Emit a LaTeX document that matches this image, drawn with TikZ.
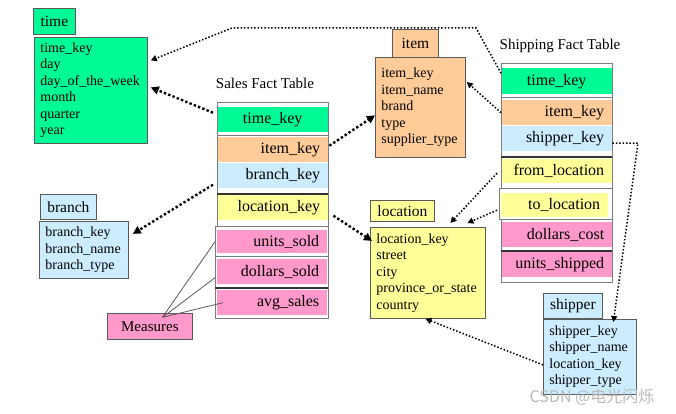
\documentclass[tikz,border=0pt]{standalone}
\usepackage{fontspec}
\setmainfont{Liberation Serif}
\newfontfamily\cjk{Noto Sans CJK SC}
\usetikzlibrary{arrows.meta}
\definecolor{cgreen}{RGB}{0,250,150}
\definecolor{corange}{RGB}{255,204,153}
\definecolor{cblue}{RGB}{204,236,255}
\definecolor{cyellow}{RGB}{255,255,153}
\definecolor{cpink}{RGB}{255,153,204}
\definecolor{cborder}{RGB}{90,90,90}
\tikzset{
  hdr/.style={draw=cborder, line width=0.8pt, anchor=north west, inner sep=0pt, font=\fontsize{15.5}{18}\selectfont},
  dimbody/.style={draw=cborder, line width=0.8pt, anchor=north west, inner xsep=6pt, inner ysep=0pt, align=left, font=\fontsize{14}{16.5}\selectfont},
  cell/.style={anchor=north west, inner xsep=8pt, inner ysep=0pt, align=right, font=\fontsize{16}{18}\selectfont},
  tframe/.style={draw=cborder!80, line width=0.7pt},
  dframe/.style={draw=black!80, line width=1.2pt},
  salesarrow/.style={line width=2.4pt, dash pattern=on 2.4pt off 2.2pt, -{Triangle[length=8pt,width=8pt]}},
  shiparrow/.style={line width=1.5pt, dash pattern=on 1.5pt off 1.9pt, -{Triangle[length=6pt,width=6pt]}},
  measline/.style={draw=cborder, line width=0.8pt},
  ttitle/.style={font=\fontsize{15}{18}\selectfont}
}
\begin{document}
\begin{tikzpicture}[x=1pt,y=-1pt]
\fill[white] (0,0) rectangle (676,414);
\useasboundingbox (0,0) rectangle (676,414);

% ---------- time dimension ----------
\node[hdr, fill=cgreen, minimum width=42pt, minimum height=26pt] (th) at (33,8) {time};
\node[dimbody, fill=cgreen, text width=101pt, minimum height=106pt] (tb) at (34,37)
  {time\_key\\day\\day\_of\_the\_week\\month\\quarter\\year};

% ---------- item dimension ----------
\node[hdr, fill=corange, minimum width=46pt, minimum height=28pt] (ih) at (392,29) {item};
\node[dimbody, fill=corange, text width=78pt, minimum height=100pt] (ib) at (375,57)
  {item\_key\\item\_name\\brand\\type\\supplier\_type};

% ---------- branch dimension ----------
\node[hdr, fill=cblue, minimum width=56pt, minimum height=25pt] (bh) at (40,194) {branch};
\node[dimbody, fill=cblue, text width=77pt, minimum height=57pt] (bb) at (39,221)
  {branch\_key\\branch\_name\\branch\_type};

% ---------- location dimension ----------
\node[hdr, fill=cyellow, minimum width=64pt, minimum height=21pt] (lh) at (370,200) {location};
\node[dimbody, fill=cyellow, text width=103pt, minimum height=91pt] (lb) at (370,227)
  {location\_key\\street\\city\\province\_or\_state\\country};

% ---------- shipper dimension ----------
\node[hdr, fill=cblue, minimum width=59pt, minimum height=25pt] (shh) at (543,293) {shipper};
\node[dimbody, fill=cblue, text width=81pt, minimum height=75pt] (shb) at (543,319)
  {shipper\_key\\shipper\_name\\location\_key\\shipper\_type};

% ---------- Sales Fact Table ----------
\node[ttitle] (st) at (265,83) {Sales Fact Table};
\node[cell, fill=cgreen, text width=95pt, minimum height=25pt, align=center] (s1) at (217,107) {time\_key};
\node[cell, fill=corange, text width=95pt, minimum height=25pt] (s2) at (217,137) {item\_key};
\node[cell, fill=cblue, text width=95pt, minimum height=25pt] (s3) at (217,163) {branch\_key};
\node[cell, fill=cyellow, text width=95pt, minimum height=25pt] (s4) at (217,195) {location\_key};
\node[cell, fill=cpink, text width=94pt, minimum height=23pt] (s5) at (217,230) {units\_sold};
\node[cell, fill=cpink, text width=94pt, minimum height=25pt] (s6) at (217,259) {dollars\_sold};
\node[cell, fill=cpink, text width=94pt, minimum height=25pt] (s7) at (217,290) {avg\_sales};
\draw[tframe] (217,102) rectangle (328,135);
\draw[tframe] (217,135) rectangle (328,194);
\draw[tframe] (217,194) rectangle (328,226);
\draw[dframe] (217,194) -- (328,194);
\draw[tframe] (215,226) rectangle (328,256);
\draw[tframe] (215,256) rectangle (328,288);
\draw[tframe] (215,288) rectangle (328,318);
\draw[dframe] (215,288) -- (328,288);

% ---------- Shipping Fact Table ----------
\node[ttitle] (sht) at (560,46) {Shipping Fact Table};
\node[cell, fill=cgreen, text width=95pt, minimum height=26pt, align=center] (h1) at (501,68) {time\_key};
\node[cell, fill=corange, text width=95pt, minimum height=25pt] (h2) at (501,100) {item\_key};
\node[cell, fill=cblue, text width=95pt, minimum height=25pt] (h3) at (501,126) {shipper\_key};
\node[cell, fill=cyellow, text width=95pt, minimum height=24pt] (h4) at (501,159) {from\_location};
\node[cell, fill=cyellow, text width=91pt, minimum height=24pt] (h5) at (501,193) {to\_location};
\node[cell, fill=cpink, text width=95pt, minimum height=25pt] (h6) at (501,222) {dollars\_cost};
\node[cell, fill=cpink, text width=95pt, minimum height=25pt] (h7) at (501,252) {units\_shipped};
\draw[tframe] (501,63) rectangle (612,97);
\draw[tframe] (501,97) rectangle (612,157);
\draw[tframe] (501,157) rectangle (612,188);
\draw[dframe] (501,157) -- (612,157);
\draw[tframe] (499,188) rectangle (612,219);
\draw[tframe] (501,219) rectangle (612,251);
\draw[tframe] (501,251) rectangle (612,282);
\draw[dframe] (501,251) -- (612,251);

% ---------- Measures ----------
\node[draw=cborder, line width=0.8pt, fill=cpink, anchor=north west, minimum width=85pt, minimum height=26pt, inner sep=0pt, font=\fontsize{15}{18}\selectfont] (ms) at (107,313) {Measures};
\draw[measline] ([xshift=12.5pt,yshift=9pt]ms.center) -- ([xshift=-2pt]s5.west);
\draw[measline] ([xshift=12.5pt,yshift=9pt]ms.center) -- ([xshift=-2pt,yshift=-6pt]s6.west);
\draw[measline] ([xshift=12.5pt,yshift=9pt]ms.center) -- ([xshift=6pt]s7.west);

% ---------- Sales arrows ----------
\draw[salesarrow] ([xshift=-4pt,yshift=7pt]s1.west) -- ([xshift=3pt,yshift=3pt]tb.east);
\draw[salesarrow] ([xshift=1pt,yshift=4pt]s2.east) -- ([yshift=-8pt]ib.west);
\draw[salesarrow] ([xshift=-4pt,yshift=-9pt]s3.west) -- ([xshift=4pt,yshift=16pt]bb.east);
\draw[salesarrow] ([xshift=5pt,yshift=-8pt]s4.east) -- ([xshift=2pt,yshift=32pt]lb.west);

% ---------- Shipping arrows ----------
\coordinate (c1) at (476,28);
\coordinate (c2) at (232,28);
\coordinate (c3) at (638,143);
\draw[shiparrow] ([yshift=8pt]h1.west) -- (c1) -- (c2) -- ([xshift=3pt,yshift=30pt]tb.east);
\draw[shiparrow] (h2.west) -- ([xshift=1pt,yshift=-25pt]ib.north east);
\draw[shiparrow] ([xshift=-4pt,yshift=-2pt]h4.west) -- ([xshift=22.5pt,yshift=4pt]lb.north);
\draw[shiparrow] ([xshift=-4pt,yshift=-5pt]h5.west) -- ([xshift=39.5pt,yshift=4pt]lb.north);
\draw[shiparrow] ([yshift=-4.5pt]h3.east) -- (c3) -- ([xshift=23.5pt,yshift=-3pt]shb.north);
\draw[shiparrow] ([yshift=-8pt]shb.west) -- ([xshift=-2.5pt]lb.south);

% ---------- watermark ----------
\node[font=\cjk\fontsize{16}{19}\selectfont, text=gray!55] (wm) at (592,397) {CSDN @电光闪烁};
\end{tikzpicture}
\end{document}
